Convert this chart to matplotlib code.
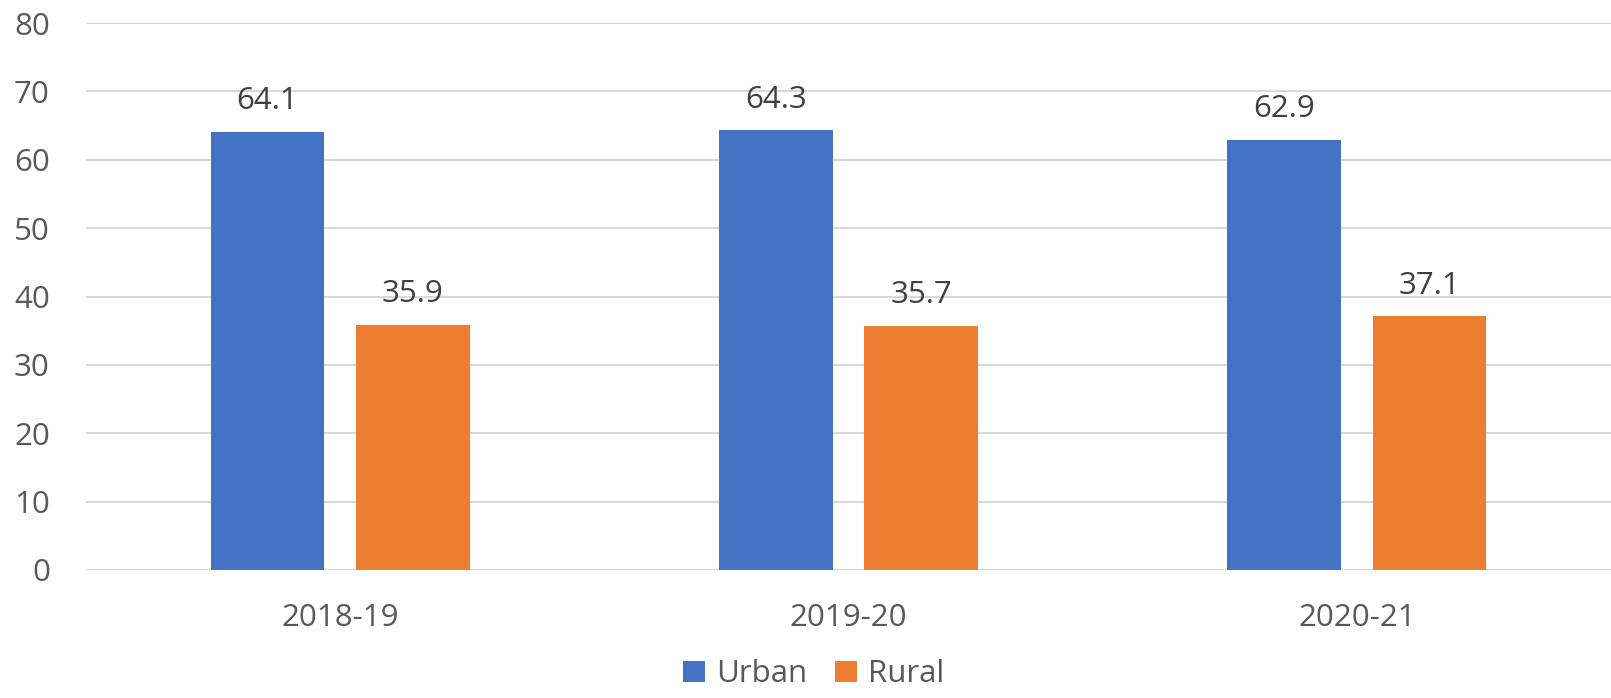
import numpy as np
import matplotlib.pyplot as plt

years = ["2018-19", "2019-20", "2020-21"]
urban = [64.1, 64.3, 62.9]
rural = [35.9, 35.7, 37.1]

plt.rcParams['font.family'] = ['Open Sans', 'DejaVu Sans']
fontSize = 22.5

fig = plt.figure(figsize=(16.11, 6.98), dpi=100)
ax = fig.add_axes([0.0534, 0.1834, 0.9466, 0.7836])

x = np.arange(len(years))
w = 0.224
off = 0.143
b1 = ax.bar(x - off, urban, w, color='#4472C4', label='Urban', zorder=3)
b2 = ax.bar(x + off, rural, w, color='#ED7D31', label='Rural', zorder=3)

for bars in (b1, b2):
    for r in bars:
        ax.annotate(f"{r.get_height():.1f}", (r.get_x() + r.get_width() / 2, r.get_height()),
                    xytext=(0, 22), textcoords='offset points', ha='center', va='center',
                    fontsize=fontSize, color='#404040')

ax.set_xlim(-0.5, 2.5)
ax.set_ylim(0, 80)
ax.set_yticks(range(0, 81, 10))
ax.set_xticks(x)
ax.set_xticklabels(years)
ax.tick_params(length=0, labelsize=fontSize, labelcolor='#595959')
ax.tick_params(axis='y', pad=26)
ax.tick_params(axis='x', pad=24)
ax.grid(axis='y', color='#D9D9D9', linewidth=1.5, zorder=0)
for s in ax.spines.values():
    s.set_visible(False)

fig.legend(loc='lower center', bbox_to_anchor=(0.505, -0.028), ncol=2, frameon=False,
           fontsize=fontSize, handlelength=0.7, handleheight=0.7, handletextpad=0.35,
           columnspacing=0.9, labelcolor='#595959')

fig.savefig("out.png", dpi=100)
